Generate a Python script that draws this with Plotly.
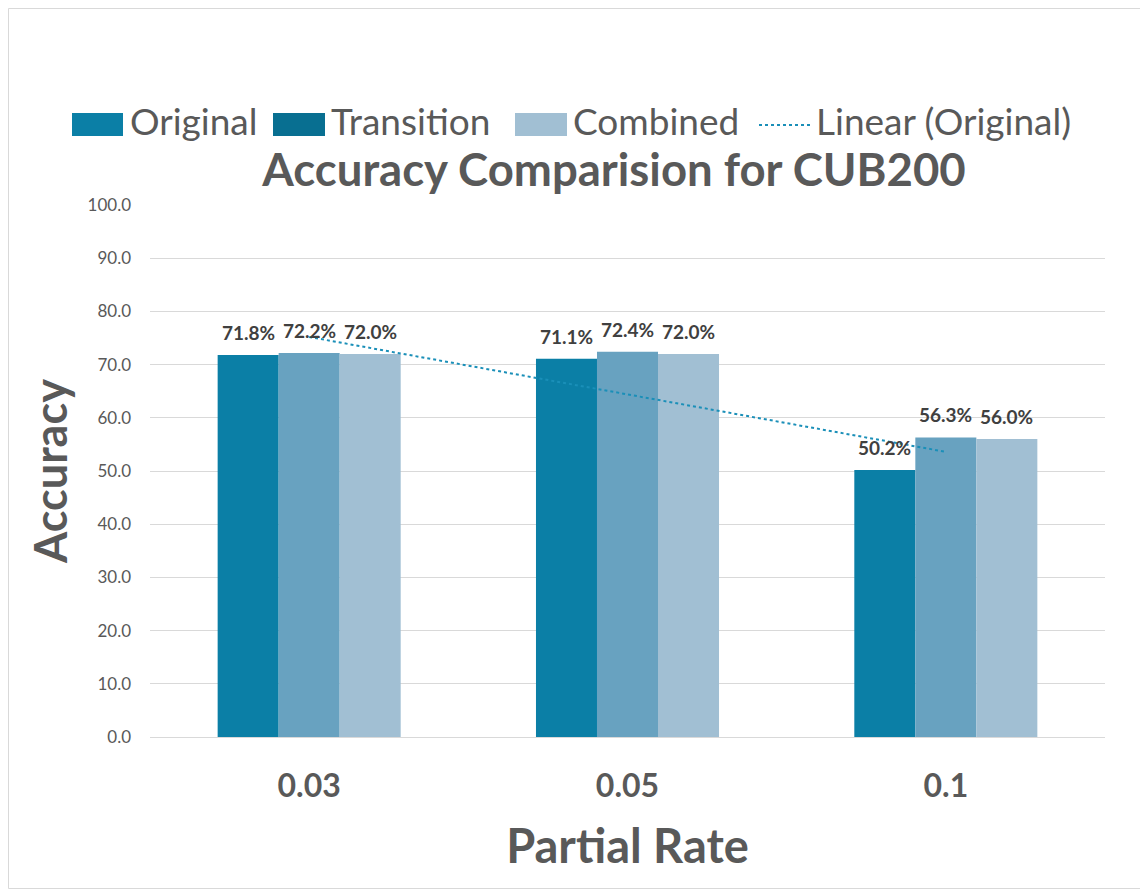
import plotly.graph_objects as go

# Data
partial_rates = ["0.03", "0.05", "0.1"]
original = [71.8, 71.1, 50.2]
transition = [72.2, 72.4, 56.3]
combined = [72.0, 72.0, 56.0]
# Excel linear trendline of Original, read at each category centre
trend_original = [75.2, 64.4, 53.6]
y_ticks = [0, 10, 20, 30, 40, 50, 60, 70, 80, 90, 100]
series_names = ["Original", "Transition", "Combined", "Linear (Original)"]

FONT = "Lato"
GREY = "#595959"
LABEL = "#404040"
TREND = "#1a8fb8"

bar_colors = ["#0b7fa6", "#68a2c0", "#a1bfd3"]
legend_colors = ["#0b7fa6", "#086f91", "#a1bfd3"]

# page has an 8px body margin, so the figure is a little smaller than the window
W, H = 1140, 881
ML, MR, MT, MB = 142, 43, 197, 152
PW, PH = W - ML - MR, H - MT - MB
BARGAP = 0.425


def px_x(sx):
    # screenshot x -> paper x
    return (sx - 8 - ML) / PW


def px_y(sy):
    # screenshot y -> paper y
    return (H - MB - (sy - 8)) / PH


fig = go.Figure()

# width of one bar in pixels, for placing the value labels
bar_px = PW / len(partial_rates) * (1 - BARGAP) / 3
annotations = []

for i, (name, vals, col) in enumerate(zip(series_names, [original, transition, combined], bar_colors)):
    fig.add_trace(
        go.Bar(
            name=name,
            x=partial_rates,
            y=vals,
            marker=dict(color=col, line=dict(width=0)),
            showlegend=False,
        )
    )
    for j, v in enumerate(vals):
        annotations.append(dict(
            x=j, y=v, xref="x", yref="y",
            text=f"{v:.1f}%", showarrow=False,
            xanchor="center", yanchor="bottom",
            xshift=(i - 1) * bar_px, yshift=9,
            font=dict(family=FONT, size=19, color=LABEL, weight="bold"),
        ))

# Trendline
fig.add_trace(
    go.Scatter(
        name=series_names[3],
        x=partial_rates,
        y=trend_original,
        mode="lines",
        line=dict(color=TREND, width=2, dash="dot"),
        showlegend=False,
    )
)

# Legend drawn by hand so the swatches are wide like Excel's
swatch_x = [(72, 123), (273, 325), (515, 567)]
text_x = [128, 329, 571, 814]
LEG_Y = 120
shapes = []
for (x0, x1), col in zip(swatch_x, legend_colors):
    shapes.append(dict(
        type="rect", xref="paper", yref="paper",
        x0=px_x(x0), x1=px_x(x1), y0=px_y(136), y1=px_y(113),
        fillcolor=col, line=dict(width=0),
    ))
shapes.append(dict(
    type="line", xref="paper", yref="paper",
    x0=px_x(759), x1=px_x(810), y0=px_y(125), y1=px_y(125),
    line=dict(color=TREND, width=2, dash="dot"),
))
for name, tx in zip(series_names, text_x):
    annotations.append(dict(
        text=name, xref="paper", yref="paper",
        x=px_x(tx), y=px_y(LEG_Y), xanchor="left", yanchor="middle",
        showarrow=False, font=dict(family=FONT, size=37, color=GREY),
    ))

# Outer chart border
shapes.append(dict(
    type="rect", xref="paper", yref="paper",
    x0=-(ML - 0.5) / PW, x1=(W - 0.5 - ML) / PW,
    y0=-(MB - 0.5) / PH, y1=1 + (MT - 0.5) / PH,
    line=dict(color="#d9d9d9", width=1), fillcolor="rgba(0,0,0,0)",
    layer="below",
))

fig.update_layout(
    width=W,
    height=H,
    paper_bgcolor="white",
    plot_bgcolor="white",
    margin=dict(l=ML, r=MR, t=MT, b=MB),
    barmode="group",
    bargap=BARGAP,
    bargroupgap=0,
    showlegend=False,
    font=dict(family=FONT, color=GREY),
    title=dict(
        text="Accuracy Comparision for CUB200",
        font=dict(family=FONT, size=45.5, color=GREY, weight="bold"),
        x=(614 - 8) / W,
        xanchor="center",
        y=1 - (170 - 8) / H,
        yanchor="middle",
    ),
    xaxis=dict(
        showgrid=False,
        showline=True,
        linecolor="#d9d9d9",
        linewidth=1,
        ticks="",
        ticklabelstandoff=21,
        tickfont=dict(family=FONT, size=32, color=GREY, weight="bold"),
        title=dict(
            text="Partial Rate",
            font=dict(family=FONT, size=47, color=GREY, weight="bold"),
            standoff=26,
        ),
    ),
    yaxis=dict(
        range=[0, 100],
        tickvals=y_ticks,
        tickformat=".1f",
        showgrid=True,
        gridcolor="#d9d9d9",
        gridwidth=1,
        zeroline=False,
        ticks="",
        ticklabelstandoff=18,
        tickfont=dict(family=FONT, size=17, color=GREY),
        title=dict(
            text="Accuracy",
            font=dict(family=FONT, size=45, color=GREY, weight="bold"),
            standoff=5,
        ),
    ),
    shapes=shapes,
    annotations=annotations,
)

fig.write_html("out.html")
